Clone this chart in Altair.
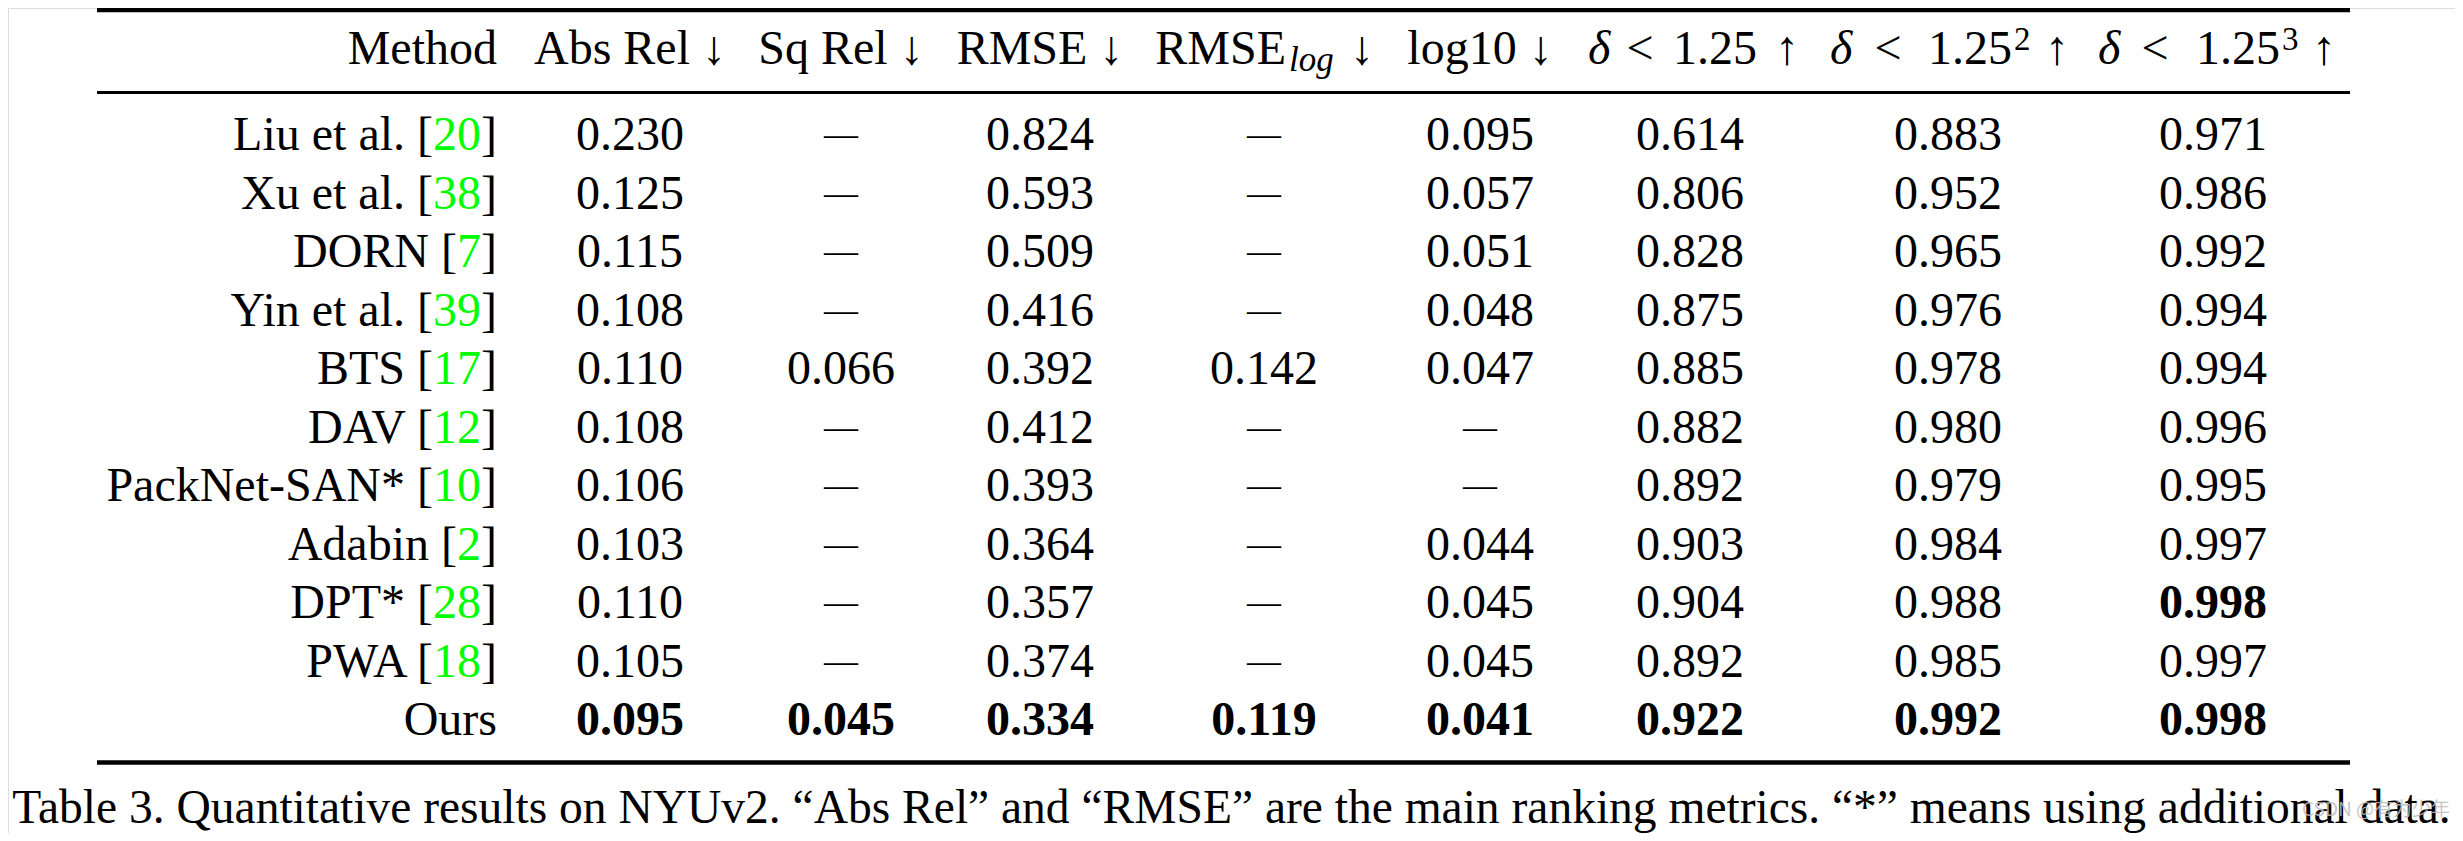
import altair as alt
import pandas as pd

# ---------------- data ----------------
methods = ["Liu et al.", "Xu et al.", "DORN", "Yin et al.", "BTS", "DAV",
           "PackNet-SAN*", "Adabin", "DPT*", "PWA", "Ours"]
refs = ["20", "38", "7", "39", "17", "12", "10", "2", "28", "18", ""]

abs_rel = [0.230, 0.125, 0.115, 0.108, 0.110, 0.108, 0.106, 0.103, 0.110, 0.105, 0.095]
sq_rel = [None, None, None, None, 0.066, None, None, None, None, None, 0.045]
rmse = [0.824, 0.593, 0.509, 0.416, 0.392, 0.412, 0.393, 0.364, 0.357, 0.374, 0.334]
rmse_log = [None, None, None, None, 0.142, None, None, None, None, None, 0.119]
log10 = [0.095, 0.057, 0.051, 0.048, 0.047, None, None, 0.044, 0.045, 0.045, 0.041]
d1 = [0.614, 0.806, 0.828, 0.875, 0.885, 0.882, 0.892, 0.903, 0.904, 0.892, 0.922]
d2 = [0.883, 0.952, 0.965, 0.976, 0.978, 0.980, 0.979, 0.984, 0.988, 0.985, 0.992]
d3 = [0.971, 0.986, 0.992, 0.994, 0.994, 0.996, 0.995, 0.997, 0.998, 0.997, 0.998]

series = [abs_rel, sq_rel, rmse, rmse_log, log10, d1, d2, d3]
lower_better = [True, True, True, True, True, False, False, False]

delta_powers = ["", "2", "3"]

caption = ("Table 3. Quantitative results on NYUv2. \u201cAbs Rel\u201d and \u201cRMSE\u201d "
           "are the main ranking metrics. \u201c*\u201d means using additional data.")
watermark = "CSDN @\u6709\u4e3a\u5c11\u5e74"

# ---------------- layout ----------------
W, H = 2447, 825
FONT = "Liberation Serif"
FS = 48
COL_X = [630, 841, 1040, 1264, 1480, 1690, 1948, 2213]
METHOD_RIGHT = 497
BRACKET_W = 16      # width of "]" at 48px
DIGIT_W = 24        # width of a digit at 48px
ROW0, ROW_STEP = 150, 58.5
HEAD_Y = 64
# pieces of the three delta headers
D_LEFT = [1588, 1830, 2098]
D_LT = [1640, 1888, 2155]
D_NUM = [1715, 1970, 2238]
D_SUP = [n + 44 for n in D_NUM]
D_ARROW = [1787, 2057, 2324]

xs = alt.Scale(domain=[8, 8 + W], range=[0, W])
ys = alt.Scale(domain=[8, 8 + H], reverse=True)
X = lambda f="x": alt.X(f"{f}:Q", scale=xs, axis=None)
Y = lambda f="y": alt.Y(f"{f}:Q", scale=ys, axis=None)

# rules
rules = pd.DataFrame({"x": [97, 97, 97], "x2": [2350, 2350, 2350],
                      "y": [10, 92.5, 762.5], "w": [4.5, 3, 4.5]})
rule_layer = alt.Chart(rules).mark_rule(color="black").encode(
    x=X(), x2="x2:Q", y=Y(), strokeWidth=alt.StrokeWidth("w:Q", scale=None))

# values
rows = []
for j, s in enumerate(series):
    present = [v for v in s if v is not None]
    best = min(present) if lower_better[j] else max(present)
    for i, v in enumerate(s):
        rows.append({"x": COL_X[j], "y": ROW0 + ROW_STEP * i,
                     "t": "\u2014" if v is None else f"{v:.3f}",
                     "kind": "dash" if v is None else ("bold" if v == best else "norm")})
vals = pd.DataFrame(rows)


def txt(df, **kw):
    base = dict(font=FONT, fontSize=FS, baseline="alphabetic", color="black")
    base.update(kw)
    return alt.Chart(df).mark_text(**base).encode(x=X(), y=Y(), text="t:N")


val_norm = txt(vals[vals.kind == "norm"], align="center")
val_bold = txt(vals[vals.kind == "bold"], align="center", fontWeight="bold")
val_dash = txt(vals[vals.kind == "dash"], align="center", fontSize=34, dy=-5)

# method names
mrows = []
for i, (m, r) in enumerate(zip(methods, refs)):
    y = ROW0 + ROW_STEP * i
    if r:
        mrows.append({"x": METHOD_RIGHT - BRACKET_W - DIGIT_W * len(r), "y": y, "t": m + " [", "k": "p"})
        mrows.append({"x": METHOD_RIGHT - BRACKET_W, "y": y, "t": r, "k": "r"})
        mrows.append({"x": METHOD_RIGHT, "y": y, "t": "]", "k": "p"})
    else:
        mrows.append({"x": METHOD_RIGHT, "y": y, "t": m, "k": "p"})
mdf = pd.DataFrame(mrows)
meth_black = txt(mdf[mdf.k == "p"], align="right")
meth_green = txt(mdf[mdf.k == "r"], align="right", color="#00ff00")

# header
hc_t = ["Abs Rel \u2193", "Sq Rel \u2193", "RMSE \u2193", "log10 \u2193"] + ["<"] * 3 + ["1.25"] * 3 + ["\u2191"] * 3
hc_x = [COL_X[0], COL_X[1], COL_X[2], COL_X[4]] + D_LT + D_NUM + D_ARROW
hc = pd.DataFrame({"x": hc_x, "y": [HEAD_Y] * len(hc_x), "t": hc_t})
head_c = txt(hc, align="center")
hr = pd.DataFrame({"x": [METHOD_RIGHT, 1286], "y": [HEAD_Y, HEAD_Y], "t": ["Method", "RMSE"]})
head_r = txt(hr, align="right")
hl = pd.DataFrame({"x": [1350], "y": [HEAD_Y], "t": ["\u2193"]})
head_l = txt(hl, align="left")
hi = pd.DataFrame({"x": D_LEFT, "y": [HEAD_Y] * 3, "t": ["\u03b4"] * 3})
head_i = txt(hi, align="left", fontStyle="italic")
hs = pd.DataFrame({"x": [1289], "y": [HEAD_Y + 7], "t": ["log"]})
head_s = txt(hs, align="left", fontStyle="italic", fontSize=35)
hp = pd.DataFrame({"x": D_SUP[1:], "y": [HEAD_Y - 14] * 2, "t": delta_powers[1:]})
head_p = txt(hp, align="left", fontSize=33)

cap = txt(pd.DataFrame({"x": [1231.5], "y": [823], "t": [caption]}), align="center", fontSize=47.5)
wm = txt(pd.DataFrame({"x": [2376], "y": [816], "t": [watermark]}), align="center",
         font="Noto Sans CJK SC", fontSize=19, color="#bdbdbd", opacity=0.85)

chart = alt.layer(rule_layer, val_norm, val_bold, val_dash, meth_black, meth_green,
                  head_c, head_r, head_l, head_i, head_s, head_p, cap, wm).properties(
    width=W, height=H, padding=0, autosize="none"
).configure_view(stroke=None).configure(background="white")

chart.save("out.html", embed_options={"renderer": "svg", "actions": False})
